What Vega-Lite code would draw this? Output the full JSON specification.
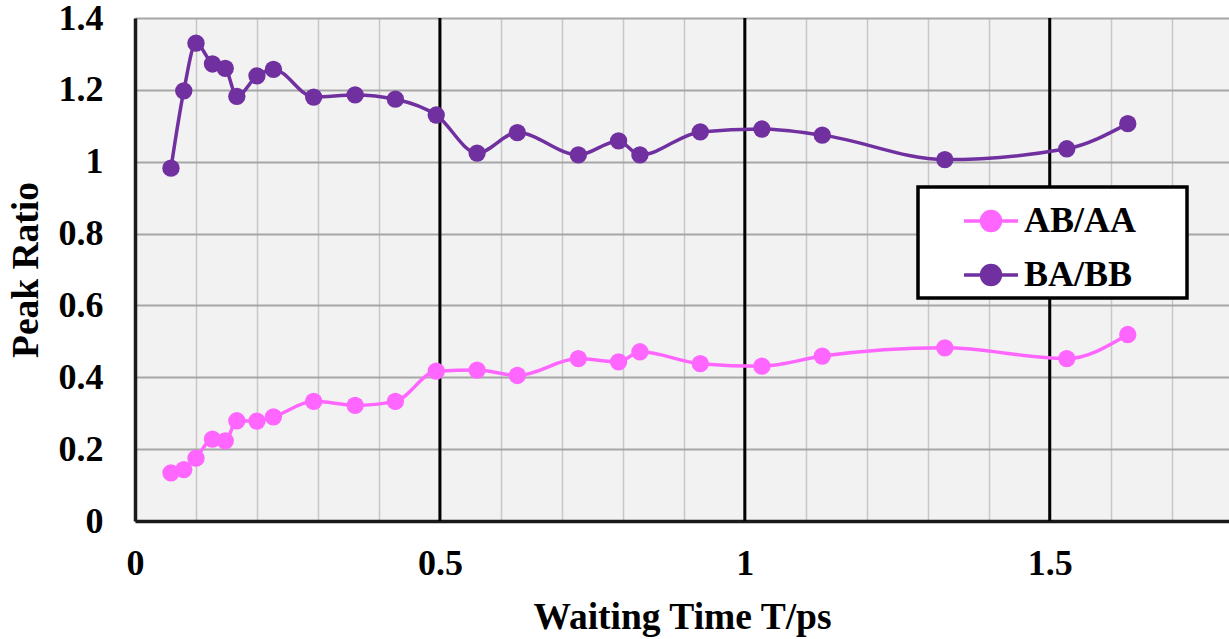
{
  "$schema": "https://vega.github.io/schema/vega-lite/v6.json",
  "width": 1094,
  "height": 503,
  "autosize": {"type": "none"},
  "padding": {"left": 135, "top": 18, "right": 0, "bottom": 118},
  "background": "white",
  "config": {
    "view": {"fill": "#f2f2f2", "stroke": null},
    "font": "Liberation Serif",
    "axis": {
      "labelFont": "Liberation Serif",
      "labelFontWeight": "bold",
      "labelFontSize": 36,
      "labelColor": "black",
      "labelFlush": false,
      "titleFont": "Liberation Serif",
      "titleFontWeight": "bold",
      "titleFontSize": 37.5,
      "titleColor": "black",
      "ticks": false,
      "domainColor": "#1a1a1a",
      "domainWidth": 3.5
    }
  },
  "datasets": {
    "ratios": [
      {"T": 0.059, "series": "AB/AA", "ratio": 0.134},
      {"T": 0.080, "series": "AB/AA", "ratio": 0.143},
      {"T": 0.100, "series": "AB/AA", "ratio": 0.175},
      {"T": 0.127, "series": "AB/AA", "ratio": 0.228},
      {"T": 0.148, "series": "AB/AA", "ratio": 0.223},
      {"T": 0.167, "series": "AB/AA", "ratio": 0.279},
      {"T": 0.200, "series": "AB/AA", "ratio": 0.278},
      {"T": 0.227, "series": "AB/AA", "ratio": 0.290},
      {"T": 0.293, "series": "AB/AA", "ratio": 0.333},
      {"T": 0.361, "series": "AB/AA", "ratio": 0.322},
      {"T": 0.427, "series": "AB/AA", "ratio": 0.333},
      {"T": 0.494, "series": "AB/AA", "ratio": 0.417},
      {"T": 0.561, "series": "AB/AA", "ratio": 0.420},
      {"T": 0.627, "series": "AB/AA", "ratio": 0.405},
      {"T": 0.727, "series": "AB/AA", "ratio": 0.452},
      {"T": 0.793, "series": "AB/AA", "ratio": 0.443},
      {"T": 0.828, "series": "AB/AA", "ratio": 0.471},
      {"T": 0.927, "series": "AB/AA", "ratio": 0.438},
      {"T": 1.028, "series": "AB/AA", "ratio": 0.431},
      {"T": 1.127, "series": "AB/AA", "ratio": 0.459},
      {"T": 1.328, "series": "AB/AA", "ratio": 0.482},
      {"T": 1.528, "series": "AB/AA", "ratio": 0.452},
      {"T": 1.628, "series": "AB/AA", "ratio": 0.519},
      {"T": 0.059, "series": "BA/BB", "ratio": 0.982},
      {"T": 0.080, "series": "BA/BB", "ratio": 1.197},
      {"T": 0.100, "series": "BA/BB", "ratio": 1.330},
      {"T": 0.127, "series": "BA/BB", "ratio": 1.272},
      {"T": 0.148, "series": "BA/BB", "ratio": 1.260},
      {"T": 0.167, "series": "BA/BB", "ratio": 1.182},
      {"T": 0.200, "series": "BA/BB", "ratio": 1.239},
      {"T": 0.227, "series": "BA/BB", "ratio": 1.257},
      {"T": 0.293, "series": "BA/BB", "ratio": 1.180},
      {"T": 0.361, "series": "BA/BB", "ratio": 1.186},
      {"T": 0.427, "series": "BA/BB", "ratio": 1.174},
      {"T": 0.494, "series": "BA/BB", "ratio": 1.130},
      {"T": 0.561, "series": "BA/BB", "ratio": 1.024},
      {"T": 0.627, "series": "BA/BB", "ratio": 1.081},
      {"T": 0.727, "series": "BA/BB", "ratio": 1.019},
      {"T": 0.793, "series": "BA/BB", "ratio": 1.058},
      {"T": 0.828, "series": "BA/BB", "ratio": 1.019},
      {"T": 0.927, "series": "BA/BB", "ratio": 1.083},
      {"T": 1.028, "series": "BA/BB", "ratio": 1.091},
      {"T": 1.127, "series": "BA/BB", "ratio": 1.074},
      {"T": 1.328, "series": "BA/BB", "ratio": 1.006},
      {"T": 1.528, "series": "BA/BB", "ratio": 1.036},
      {"T": 1.628, "series": "BA/BB", "ratio": 1.106}
    ],
    "majorT": [{"T": 0.5}, {"T": 1}, {"T": 1.5}]
  },
  "layer": [
    {
      "data": {"name": "majorT"},
      "mark": {"type": "rule", "color": "black", "strokeWidth": 3},
      "encoding": {
        "x": {"field": "T", "type": "quantitative", "title": "Waiting Time T/ps"}
      }
    },
    {
      "data": {"name": "ratios"},
      "mark": {
        "type": "line",
        "interpolate": "monotone",
        "strokeWidth": 3.5,
        "point": {"filled": true, "size": 300, "opacity": 1}
      },
      "encoding": {
        "x": {
          "field": "T",
          "type": "quantitative",
          "title": "Waiting Time T/ps",
          "scale": {"domain": [0, 1.794], "nice": false, "zero": false},
          "axis": {
            "values": [0, 0.1, 0.2, 0.3, 0.4, 0.5, 0.6, 0.7, 0.8, 0.9, 1, 1.1, 1.2, 1.3, 1.4, 1.5, 1.6, 1.7],
            "format": ".1~f",
            "labelExpr": "datum.value == 0 || datum.value == 0.5 || datum.value == 1 || datum.value == 1.5 ? datum.label : ''",
            "grid": true,
            "gridColor": "#c8c8c8",
            "gridWidth": 1.5,
            "labelPadding": 25,
            "titlePadding": 17
          }
        },
        "y": {
          "field": "ratio",
          "type": "quantitative",
          "title": "Peak Ratio",
          "scale": {"domain": [0, 1.4], "nice": false},
          "axis": {
            "values": [0, 0.2, 0.4, 0.6, 0.8, 1, 1.2, 1.4],
            "format": "~g",
            "grid": true,
            "gridColor": "#a6a6a6",
            "gridWidth": 2,
            "labelPadding": 32,
            "titlePadding": 13
          }
        },
        "color": {
          "field": "series",
          "type": "nominal",
          "scale": {"domain": ["AB/AA", "BA/BB"], "range": ["#ff66ff", "#7030a0"]},
          "legend": {
            "orient": "none",
            "legendX": 783,
            "legendY": 169,
            "title": null,
            "padding": 5,
            "symbolOffset": 39,
            "symbolType": "M-1,0L1,0M0.35,0A0.35,0.35,0,1,1,-0.35,0A0.35,0.35,0,1,1,0.35,0Z",
            "symbolSize": 2916,
            "symbolStrokeWidth": 3.5,
            "labelOffset": 4,
            "labelFont": "Liberation Serif",
            "labelFontSize": 36,
            "labelFontWeight": "bold",
            "labelColor": "black",
            "labelLimit": 400,
            "rowPadding": 7,
            "strokeColor": "black",
            "fillColor": "white",
            "labelExpr": "datum.label + '\u00a0\u00a0\u00a0\u00a0\u00a0\u200b'",
            "encode": {
              "symbols": {"update": {"fill": {"scale": "color", "field": "value"}, "fillOpacity": {"value": 1}, "opacity": {"value": 1}}},
              "legend": {"update": {"strokeWidth": {"value": 3.5}}}
            }
          }
        }
      }
    },
    {
      "mark": {"type": "rule", "color": "#1a1a1a", "strokeWidth": 3.5},
      "encoding": {
        "y": {"datum": 1.4, "type": "quantitative", "title": "Peak Ratio"}
      }
    }
  ]
}
